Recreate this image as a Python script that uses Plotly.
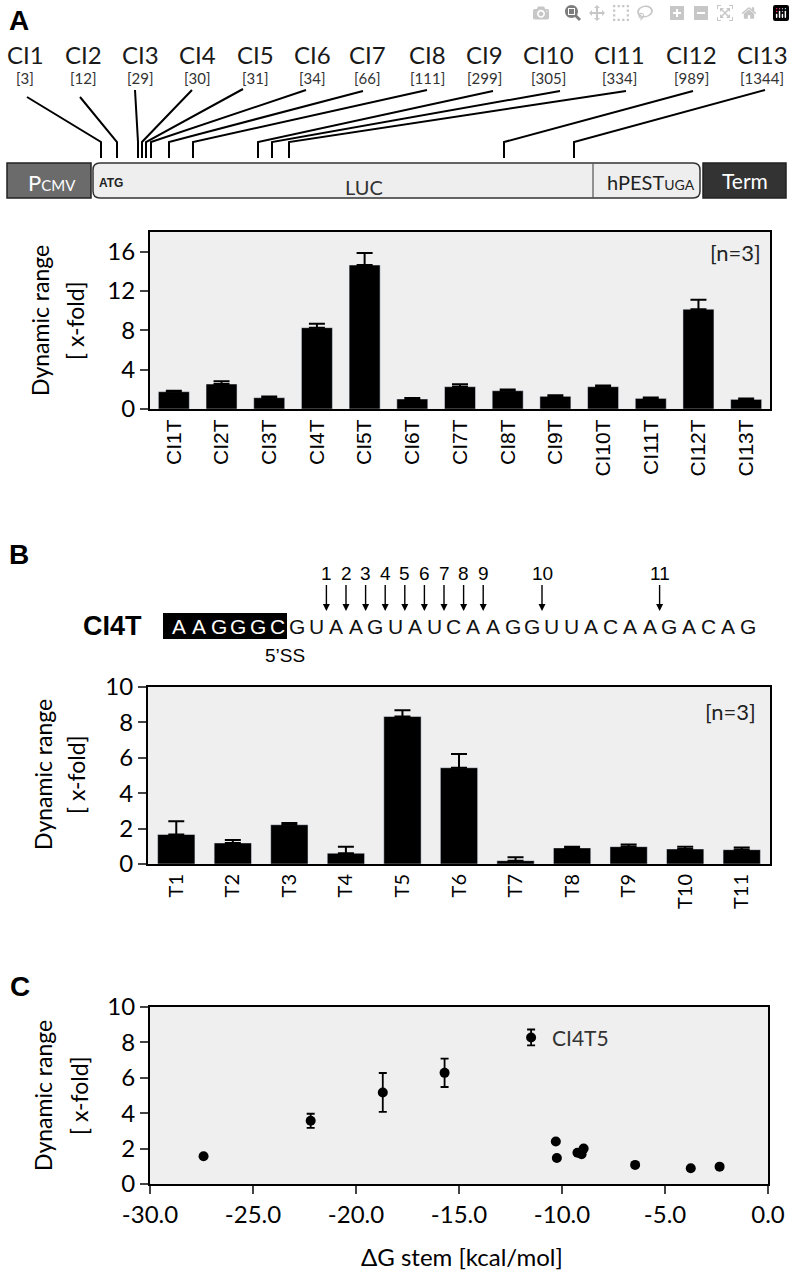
import plotly.graph_objects as go

W, H = 795, 1276
def px(x): return x / W
def py(y): return 1 - y / H

# ---------------- data ----------------
site_names = ["CI1", "CI2", "CI3", "CI4", "CI5", "CI6", "CI7", "CI8", "CI9", "CI10", "CI11", "CI12", "CI13"]
site_pos = [3, 12, 29, 30, 31, 34, 66, 111, 299, 305, 334, 989, 1344]

a_cats = ["CI1T", "CI2T", "CI3T", "CI4T", "CI5T", "CI6T", "CI7T", "CI8T", "CI9T", "CI10T", "CI11T", "CI12T", "CI13T"]
a_vals = [1.76, 2.54, 1.15, 8.27, 14.64, 1.02, 2.27, 1.86, 1.29, 2.27, 1.08, 10.15, 0.98]
a_err = [0.10, 0.27, 0.12, 0.41, 1.22, 0.10, 0.24, 0.13, 0.10, 0.13, 0.10, 0.95, 0.10]

b_cats = ["T1", "T2", "T3", "T4", "T5", "T6", "T7", "T8", "T9", "T10", "T11"]
b_vals = [1.67, 1.19, 2.22, 0.61, 8.33, 5.44, 0.19, 0.91, 0.98, 0.85, 0.81]
b_err = [0.75, 0.17, 0.09, 0.37, 0.36, 0.77, 0.19, 0.07, 0.12, 0.13, 0.12]

c_dg = [-27.4, -22.2, -18.7, -15.7, -11.5, -10.3, -10.25, -9.25, -9.05, -8.95, -6.45, -3.75, -2.35]
c_dr = [1.57, 3.57, 5.17, 6.28, 8.28, 2.40, 1.47, 1.77, 1.68, 2.00, 1.08, 0.89, 0.98]
c_err = [0, 0.40, 1.10, 0.80, 0.45, 0, 0, 0, 0, 0, 0, 0, 0]
c_ticks = [-30, -25, -20, -15, -10, -5, 0]

seq_ss = "AAGGGC"
seq_rest = "GUAAGUAUCAAGGUUACAAGACAG"
arrow_labels = ["1", "2", "3", "4", "5", "6", "7", "8", "9", "10", "11"]
arrow_gap = [1.5, 2.5, 3.5, 4.5, 5.5, 6.5, 7.5, 8.5, 9.5, 12.5, 18.5]

# ---------------- layout (schematic, pixel units) ----------------
label_x = [25, 83, 140, 197, 255, 312, 367, 427, 484, 548, 619, 691, 762]
line_top = [(27, 97), (80, 97), (135, 90), (192, 90), (243, 89), (306, 90), (363, 91),
            (427, 90), (493, 91), (560, 91), (626, 91), (693, 91), (765, 90)]
line_bot_x = [101, 117, 138, 142, 146, 151, 169, 193, 258, 272, 289, 504, 574]
ELBOW_Y, BOT_Y = 142, 158
SEQ_X0, SEQ_PITCH, SEQ_Y = 297, 19.6, 626

FONT = "Lato, 'Open Sans', sans-serif"
ARIAL = "'Liberation Sans', Arial, sans-serif"

fig = go.Figure()

fig.add_trace(go.Bar(x=a_cats, y=a_vals, marker_color="black", width=0.65,
                     error_y=dict(type="data", array=a_err, arrayminus=[0] * len(a_err), symmetric=False,
                                  color="black", thickness=2, width=8),
                     xaxis="x", yaxis="y", showlegend=False))
fig.add_trace(go.Bar(x=b_cats, y=b_vals, marker_color="black", width=0.66,
                     error_y=dict(type="data", array=b_err, arrayminus=[0] * len(b_err), symmetric=False,
                                  color="black", thickness=2, width=8),
                     xaxis="x2", yaxis="y2", showlegend=False))
fig.add_trace(go.Scatter(x=c_dg, y=c_dr, mode="markers", marker=dict(color="black", size=10),
                         error_y=dict(type="data", array=c_err, color="black", thickness=1.8, width=4),
                         xaxis="x3", yaxis="y3", showlegend=False))

ax_common = dict(showline=True, linecolor="black", linewidth=2, mirror=True, showgrid=False,
                 zeroline=False, automargin=False)
yfont = dict(family=FONT, size=24, color="black")
fig.update_layout(
    width=W, height=H, margin=dict(l=0, r=0, t=0, b=0, pad=0, autoexpand=False),
    paper_bgcolor="white", plot_bgcolor="#efefef", bargap=0.35,
    xaxis=dict(domain=[px(150), px(770)], anchor="y", ticks="", tickangle=-90,
               tickfont=dict(family=ARIAL, size=21, color="black"), range=[-0.5, 12.5], **ax_common),
    yaxis=dict(domain=[py(409), py(232)], anchor="x", range=[0, 18], tickvals=[0, 4, 8, 12, 16],
               ticks="outside", ticklen=8, tickwidth=2, tickfont=yfont, **ax_common),
    xaxis2=dict(domain=[px(148), px(770)], anchor="y2", ticks="", tickangle=-90,
                tickfont=dict(family=FONT, size=20, color="black"), range=[-0.5, 10.5], **ax_common),
    yaxis2=dict(domain=[py(864), py(687)], anchor="x2", range=[0, 10], dtick=2,
                ticks="outside", ticklen=8, tickwidth=2, tickfont=yfont, **ax_common),
    xaxis3=dict(domain=[px(150), px(768)], anchor="y3", range=[-30, 0],
                tickvals=c_ticks, ticktext=[f"{v:.1f}" for v in c_ticks],
                ticks="outside", ticklen=8, tickwidth=2, tickfont=yfont, **ax_common),
    yaxis3=dict(domain=[py(1184), py(1007)], anchor="x3", range=[0, 10], dtick=2,
                ticks="outside", ticklen=8, tickwidth=2, tickfont=yfont, **ax_common),
)

shapes = []
ann = []

def text(x, y, s, size, family=FONT, color="black", xanchor="center", yanchor="middle", angle=0):
    ann.append(dict(x=px(x), y=py(y), xref="paper", yref="paper", text=s, showarrow=False,
                    font=dict(family=family, size=size, color=color), xanchor=xanchor, yanchor=yanchor,
                    textangle=angle, borderpad=0))

# panel letters
text(8, 21, "<b>A</b>", 28, ARIAL, xanchor="left")
text(8, 554, "<b>B</b>", 28, ARIAL, xanchor="left")
text(9, 986, "<b>C</b>", 28, ARIAL, xanchor="left")

# construct labels and connector lines
for name, pos, lx, (tx, ty), bx in zip(site_names, site_pos, label_x, line_top, line_bot_x):
    text(lx, 54, name, 24, color="#1a1a1a")
    text(lx, 78, f"[{pos}]", 15, color="#333")
    shapes.append(dict(type="path", xref="paper", yref="paper",
                       path=f"M {px(tx)},{py(ty)} L {px(bx)},{py(ELBOW_Y)} L {px(bx)},{py(BOT_Y)}",
                       line=dict(color="black", width=2)))

# construct boxes
shapes.append(dict(type="rect", xref="paper", yref="paper", x0=px(7), x1=px(91), y0=py(198), y1=py(163),
                   fillcolor="#6b6b6b", line=dict(color="#222", width=1.5)))
x0, x1, yt, yb = px(93), px(700), py(163), py(198)
rx, ry = 7 / W, 7 / H
luc_path = (f"M {x0+rx},{yt} L {x1-rx},{yt} Q {x1},{yt} {x1},{yt-ry} L {x1},{yb+ry} Q {x1},{yb} {x1-rx},{yb} "
            f"L {x0+rx},{yb} Q {x0},{yb} {x0},{yb+ry} L {x0},{yt-ry} Q {x0},{yt} {x0+rx},{yt} Z")
shapes.append(dict(type="path", xref="paper", yref="paper", path=luc_path, fillcolor="#eeeeee",
                   line=dict(color="#333", width=1.5)))
shapes.append(dict(type="line", xref="paper", yref="paper", x0=px(593), x1=px(593), y0=py(198), y1=py(163),
                   line=dict(color="#555", width=1.2)))
shapes.append(dict(type="rect", xref="paper", yref="paper", x0=px(703), x1=px(786), y0=py(198), y1=py(163),
                   fillcolor="#333333", line=dict(color="#222", width=1.5)))
text(52, 182, "P<span style='font-size:15px'>CMV</span>", 22, color="white")
text(98, 183, "<b>ATG</b>", 12, ARIAL, color="#222", xanchor="left")
text(364, 187, "LUC", 20, color="#333")
text(606, 182, "hPEST<span style='font-size:14px'>UGA</span>", 20, color="#222", xanchor="left")
text(745, 181, "Term", 21, color="white")

# y-axis titles
for cy, x1t, x2t in [(321, 40, 75), (775, 43, 76), (1096, 43, 79)]:
    text(x1t, cy, "Dynamic range", 23, angle=-90)
    text(x2t, cy, "[ x-fold]", 23, angle=-90)

# [n=3]
text(762, 252, "[n=3]", 22, color="#222", xanchor="right")
text(757, 711, "[n=3]", 22, color="#222", xanchor="right")

# panel B sequence
text(82, SEQ_Y, "<b>CI4T</b>", 27, ARIAL, xanchor="left")
shapes.append(dict(type="rect", xref="paper", yref="paper", x0=px(163), x1=px(287), y0=py(639), y1=py(613),
                   fillcolor="black", line=dict(width=0)))
for i, ch in enumerate(seq_ss):
    text(SEQ_X0 + SEQ_PITCH * (i - len(seq_ss)), SEQ_Y, ch, 21, ARIAL, color="white")
for i, ch in enumerate(seq_rest):
    text(SEQ_X0 + SEQ_PITCH * i, SEQ_Y, ch, 21, ARIAL, color="#111")
text(285, 655, "5’SS", 19, ARIAL)
for lab, g in zip(arrow_labels, arrow_gap):
    ann.append(dict(x=px(SEQ_X0 + SEQ_PITCH * g), y=py(611), xref="paper", yref="paper", text=lab,
                    showarrow=True, ax=0, ay=-38, arrowhead=2, arrowsize=1, arrowwidth=1.4,
                    arrowcolor="black", standoff=0, font=dict(family=ARIAL, size=19, color="black")))

# panel C annotations
ann.append(dict(x=-10.6, y=8.25, xref="x3", yref="y3", text="CI4T5", showarrow=False, xanchor="left",
                font=dict(family=FONT, size=21, color="#333")))
text(462, 1256, "ΔG stem [kcal/mol]", 24)

fig.update_layout(shapes=shapes, annotations=ann)
fig.write_html("out.html", post_script="document.body.style.margin='0';")
